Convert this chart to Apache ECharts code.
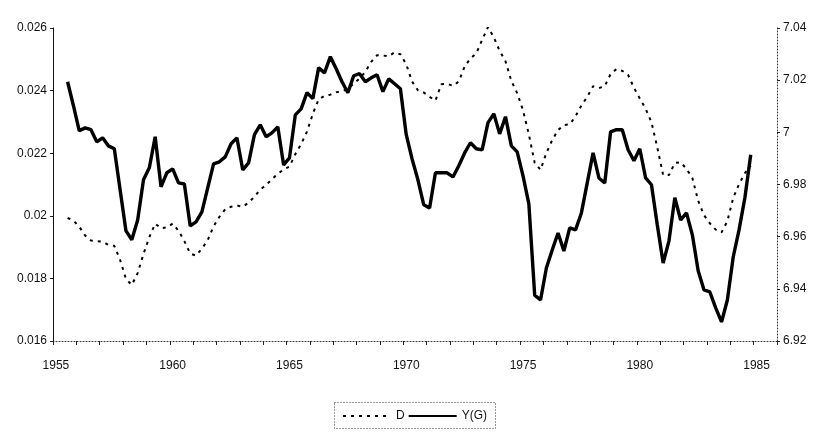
<!DOCTYPE html>
<html>
<head>
<meta charset="utf-8">
<script src="https://cdn.jsdelivr.net/npm/echarts@6/dist/echarts.min.js"></script>
<style>
html,body{margin:0;padding:0;background:#fff;}
#chart{width:817px;height:435px;}
</style>
</head>
<body>
<div id="chart"></div>
<script>
// Quarterly categories 1955Q1 .. 1985Q4
const firstYear = 1955;
const lastYear = 1985;
// Tick labels shown on x axis
const yearLabels = ['1955','1960','1965','1970','1975','1980','1985'];
// Series start in 1955Q3 (two empty quarters before)
const leadingEmpty = 2;

// D (dashed, left axis), 1955Q3 .. 1984Q4
const seriesD = [
  0.01993,0.01985,0.01965,0.01937,0.01921,0.01919,0.01917,0.01907,0.01904,0.01859,
  0.01798,0.01779,0.01817,0.01878,0.01932,0.01975,0.01960,0.01963,0.01975,0.01952,
  0.01919,0.01879,0.01873,0.01895,0.01922,0.01966,0.01997,0.02021,0.02029,0.02033,
  0.02029,0.02042,0.02061,0.02084,0.02098,0.02117,0.02134,0.02148,0.02157,0.02197,
  0.02229,0.02269,0.02326,0.02372,0.02383,0.02387,0.02395,0.02397,0.02406,0.02422,
  0.02439,0.02460,0.02492,0.02513,0.02512,0.02510,0.02522,0.02516,0.02484,0.02429,
  0.02401,0.02394,0.02380,0.02368,0.02420,0.02422,0.02415,0.02429,0.02477,0.02503,
  0.02519,0.02562,0.02603,0.02570,0.02527,0.02494,0.02431,0.02392,0.02337,0.02260,
  0.02169,0.02147,0.02201,0.02242,0.02274,0.02290,0.02292,0.02318,0.02352,0.02380,
  0.02414,0.02408,0.02414,0.02453,0.02469,0.02463,0.02450,0.02409,0.02375,0.02342,
  0.02299,0.02218,0.02130,0.02130,0.02169,0.02171,0.02150,0.02121,0.02048,0.02002,
  0.01976,0.01956,0.01947,0.01983,0.02057,0.02101,0.02136,0.02160
];

// Y(G) (solid, right axis), 1955Q3 .. 1984Q4
const seriesYG = [
  7.0194,7.0102,7.0006,7.0017,7.0010,6.9964,6.9979,6.9948,6.9937,6.9779,
  6.9622,6.9588,6.9664,6.9818,6.9864,6.9983,6.9791,6.9845,6.9860,6.9806,
  6.9802,6.9641,6.9657,6.9695,6.9787,6.9879,6.9887,6.9906,6.9956,6.9979,
  6.9856,6.9883,6.9991,7.0029,6.9983,6.9998,7.0021,6.9875,6.9902,7.0067,
  7.0090,7.0152,7.0129,7.0248,7.0228,7.0290,7.0244,7.0194,7.0152,7.0217,
  7.0225,7.0194,7.0209,7.0221,7.0156,7.0205,7.0186,7.0167,6.9991,6.9898,
  6.9818,6.9722,6.9710,6.9845,6.9845,6.9845,6.9829,6.9872,6.9921,6.9960,
  6.9937,6.9933,7.0037,7.0071,6.9994,7.0060,6.9948,6.9925,6.9833,6.9726,
  6.9376,6.9357,6.9480,6.9549,6.9614,6.9545,6.9634,6.9626,6.9691,6.9806,
  6.9921,6.9825,6.9806,7.0002,7.0010,7.0010,6.9933,6.9891,6.9937,6.9825,
  6.9799,6.9645,6.9499,6.9584,6.9749,6.9664,6.9691,6.9607,6.9469,6.9396,
  6.9388,6.9327,6.9273,6.9357,6.9522,6.9626,6.9749,6.9914
];

const categories = [];
for (let y = firstYear; y <= lastYear; y++) {
  for (let q = 1; q <= 4; q++) categories.push(y + 'Q' + q);
}
function pad(arr) {
  const out = [];
  for (let i = 0; i < leadingEmpty; i++) out.push(null);
  arr.forEach(v => out.push(v));
  while (out.length < categories.length) out.push(null);
  return out;
}

const font = 'Liberation Sans';
const chart = echarts.init(document.getElementById('chart'), null, {renderer: 'canvas'});
chart.setOption({
  animation: false,
  backgroundColor: '#ffffff',
  grid: {left: 53, right: 40, top: 28, bottom: 94, containLabel: false},
  xAxis: {
    type: 'category',
    data: categories,
    boundaryGap: true,
    axisLine: {show: true, lineStyle: {color: '#333', width: 1, type: [1, 2]}},
    axisTick: {show: true, interval: 3, length: 4, inside: false, lineStyle: {color: '#222'}},
    axisLabel: {
      interval: 19,
      margin: 19,
      color: '#111',
      fontFamily: font,
      fontSize: 12,
      formatter: function (v) { return v.slice(0, 4); }
    },
    splitLine: {show: false}
  },
  yAxis: [
    {
      type: 'value', position: 'left', min: 0.016, max: 0.026, interval: 0.002,
      axisLine: {show: true, lineStyle: {color: '#111', width: 1}},
      axisTick: {show: true, length: 3, lineStyle: {color: '#222'}},
      axisLabel: {color: '#111', fontFamily: font, fontSize: 12, margin: 6},
      splitLine: {show: false}
    },
    {
      type: 'value', position: 'right', min: 6.92, max: 7.04, interval: 0.02,
      axisLine: {show: true, lineStyle: {color: '#333', width: 1, type: [1, 2]}},
      axisTick: {show: true, length: 3, lineStyle: {color: '#222'}},
      axisLabel: {color: '#111', fontFamily: font, fontSize: 12, margin: 6},
      splitLine: {show: false}
    }
  ],
  legend: {
    left: 337, top: 405,
    itemWidth: 48, itemHeight: 10, itemGap: 3,
    itemStyle: {opacity: 0, color: 'transparent', borderWidth: 0},
    textStyle: {color: '#111', fontFamily: font, fontSize: 12},
    data: ['D', 'Y(G)']
  },
  graphic: [{
    type: 'rect', left: 332, top: 400,
    shape: {width: 161, height: 26},
    style: {fill: 'none', stroke: '#333', lineWidth: 1, lineDash: [1, 2]}
  }],
  series: [
    {
      name: 'D', type: 'line', yAxisIndex: 0, data: pad(seriesD),
      symbol: 'none', connectNulls: false,
      lineStyle: {color: '#000', width: 2, type: [3, 5]},
      itemStyle: {color: '#000'}
    },
    {
      name: 'Y(G)', type: 'line', yAxisIndex: 1, data: pad(seriesYG),
      symbol: 'none', connectNulls: false,
      lineStyle: {color: '#000', width: 3.4, type: 'solid'},
      itemStyle: {color: '#000'}
    }
  ]
});
</script>
</body>
</html>
